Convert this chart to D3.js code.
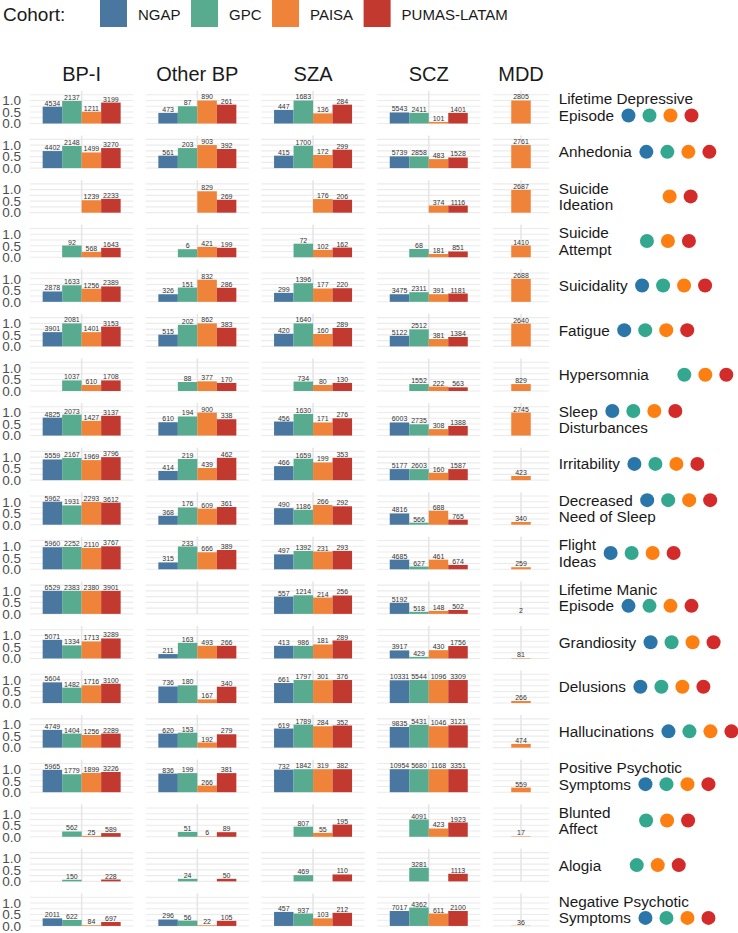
<!DOCTYPE html>
<html>
<head>
<meta charset="utf-8">
<script src="https://cdn.jsdelivr.net/npm/d3@7"></script>
<style>
  body { margin: 0; background: #fff; }
  svg { display: block; font-family: "Liberation Sans", Arial, sans-serif; }
</style>
</head>
<body>
<svg id="chart" width="738" height="933"></svg>
<script>
const cohorts = ["NGAP", "GPC", "PAISA", "PUMAS-LATAM"];
const barColours = ["#4a77a0", "#59ab90", "#ef8339", "#c1392f"];
const dotColours = ["#2b76a8", "#34a88e", "#fd7f11", "#d32a2a"];
const disorders = ["BP-I", "Other BP", "SZA", "SCZ", "MDD"];

// label lines per symptom
const symptoms = [
  ["Lifetime Depressive", "Episode"], ["Anhedonia"], ["Suicide", "Ideation"], ["Suicide", "Attempt"],
  ["Suicidality"], ["Fatigue"], ["Hypersomnia"], ["Sleep", "Disturbances"], ["Irritability"],
  ["Decreased", "Need of Sleep"], ["Flight", "Ideas"], ["Lifetime Manic", "Episode"], ["Grandiosity"],
  ["Delusions"], ["Hallucinations"], ["Positive Psychotic", "Symptoms"], ["Blunted", "Affect"],
  ["Alogia"], ["Negative Psychotic", "Symptoms"]
];
// which cohorts have a dot next to each symptom
const symptomCohorts = [
  [0,1,2,3], [0,1,2,3], [2,3], [1,2,3], [0,1,2,3], [0,1,2,3], [1,2,3], [0,1,2,3], [0,1,2,3],
  [0,1,2,3], [0,1,2,3], [0,1,2,3], [0,1,2,3], [0,1,2,3], [0,1,2,3], [0,1,2,3], [1,2,3], [1,2,3], [0,1,2,3]
];
// line the dots sit on ("mid" = beside the whole block)
const dotsOn = [1, 0, "mid", "mid", 0, 0, 0, 0, 0, 0, "mid", 1, 0, 0, 0, 1, "mid", 0, 1];

const bp1Prop = [
  [.73,.98,.51,.91], [.74,.96,.68,.87], [null,null,.54,.60], [null,.51,.23,.41],
  [.45,.72,.57,.67], [.62,1.0,.62,.86], [null,.46,.26,.46], [.78,.91,.64,.86],
  [.90,.96,.87,1.0], [1.0,.84,.99,.96], [.96,.97,.93,1.0], [1,1,1,1],
  [.81,.57,.74,.87], [.90,.67,.77,.84], [.77,.61,.55,.61], [.97,.78,.84,.88],
  [null,.23,.04,.16], [null,.07,null,.08], [.33,.26,.03,.17]
];
const bp1N = [
  [4534,2137,1211,3199], [4402,2148,1499,3270], [null,null,1239,2233], [null,92,568,1643],
  [2878,1633,1256,2389], [3901,2081,1401,3153], [null,1037,610,1708], [4825,2073,1427,3137],
  [5559,2167,1969,3796], [5962,1931,2293,3612], [5960,2252,2110,3767], [6529,2383,2380,3901],
  [5071,1334,1713,3289], [5604,1482,1716,3100], [4749,1404,1256,2289], [5965,1779,1899,3226],
  [null,562,25,589], [null,150,null,228], [2011,622,84,697]
];

const otherBpProp = [
  [.46,.75,1.0,.82], [.54,.87,1.0,.83], [null,null,.93,.56], [null,.35,.45,.41],
  [.33,.62,.96,.61], [.51,.94,1.0,.81], [null,.39,.42,.35], [.58,.83,1.0,.71],
  [.40,.92,.53,.97], [.39,.75,.70,.77], [.30,.99,.74,.84], [null,null,null,null],
  [.19,.68,.55,.55], [.72,.77,.16,.71], [.61,.65,.22,.58], [.81,.83,.29,.83],
  [null,.21,.02,.20], [null,.11,null,.11], [.28,.23,.03,.22]
];
const otherBpN = [
  [473,87,890,261], [561,203,903,392], [null,null,829,269], [null,6,421,199],
  [326,151,832,286], [515,202,862,383], [null,88,377,170], [610,194,900,338],
  [414,219,439,462], [368,176,609,361], [315,233,666,389], [null,null,null,null],
  [211,163,493,266], [736,180,167,340], [620,153,192,279], [836,199,266,381],
  [null,51,6,89], [null,24,null,50], [296,56,22,105]
];

const szaProp = [
  [.59,1.0,.44,.82], [.54,.97,.57,.80], [null,null,.59,.56], [null,.59,.32,.42],
  [.39,.81,.58,.59], [.55,1.0,.54,.80], [null,.41,.26,.35], [.61,.94,.57,.75],
  [.61,.93,.77,.97], [.72,.65,.86,.80], [.65,.80,.77,.80], [.75,.81,.71,.80],
  [.55,.55,.61,.78], [.87,1.0,.99,1.0], [.83,1.0,.93,.96], [.98,1.0,1.0,1.0],
  [null,.44,.17,.53], [null,.27,null,.30], [.61,.54,.33,.57]
];
const szaN = [
  [447,1683,136,284], [415,1700,172,299], [null,null,176,206], [null,72,102,162],
  [299,1396,177,220], [420,1640,160,289], [null,734,80,130], [456,1630,171,276],
  [466,1659,199,353], [490,1186,266,292], [497,1392,231,293], [557,1214,214,256],
  [413,986,181,289], [661,1797,301,376], [619,1789,284,352], [732,1842,319,382],
  [null,807,55,195], [null,469,null,110], [457,937,103,212]
];

const sczProp = [
  [.48,.46,.07,.46], [.51,.51,.39,.46], [null,null,.31,.31], [null,.36,.14,.25],
  [.33,.42,.33,.36], [.46,.74,.32,.41], [null,.30,.19,.16], [.57,.49,.28,.42],
  [.48,.48,.32,.48], [.49,.09,.61,.22], [.42,.12,.42,.19], [.48,.09,.13,.17],
  [.35,.07,.36,.54], [.99,1.0,1.0,1.0], [.90,.99,.93,.97], [1,1,1,1],
  [null,.75,.36,.62], [null,.59,null,.33], [.65,.80,.54,.65]
];
const sczN = [
  [5543,2411,101,1401], [5739,2858,483,1528], [null,null,374,1116], [null,68,181,851],
  [3475,2311,391,1181], [5122,2512,381,1384], [null,1552,222,563], [6003,2735,308,1388],
  [5177,2603,160,1587], [4816,566,688,765], [4685,627,461,674], [5192,518,148,502],
  [3917,429,430,1756], [10331,5544,1096,3309], [9835,5431,1046,3121], [10954,5680,1168,3351],
  [null,4091,423,1923], [null,3281,null,1113], [7017,4362,611,2100]
];

// MDD only has PAISA
const mddProp = [1.0,1.0,.99,.51,1.0,.99,.30,1.0,.18,.12,.09,0,.02,.09,.16,.20,.02,null,.01];
const mddN = [2805,2761,2687,1410,2688,2640,829,2745,423,340,259,2,81,266,474,559,17,null,36];

const panels = {
  "BP-I": { prop: bp1Prop, n: bp1N, cohorts: cohorts },
  "Other BP": { prop: otherBpProp, n: otherBpN, cohorts: cohorts },
  "SZA": { prop: szaProp, n: szaN, cohorts: cohorts },
  "SCZ": { prop: sczProp, n: sczN, cohorts: cohorts },
  "MDD": { prop: mddProp.map(v => [v]), n: mddN.map(v => [v]), cohorts: ["PAISA"] }
};

const svg = d3.select("#chart");
const colour = d3.scaleOrdinal(cohorts, barColours);

// layout
const panelH = 32.5, barW = 19.5;
const firstTop = 91, rowStep = 44.58, gap = 12.4;
const rowTop = d3.scalePoint()
    .domain(d3.range(symptoms.length))
    .range([firstTop, firstTop + rowStep * (symptoms.length - 1)]);
const y = d3.scaleLinear().domain([0, 1.413]).range([panelH, 0]);

let x0 = 30;
const panelPos = disorders.map(d => {
  const w = d === "MDD" ? 56.4 : 103.3;
  const p = { d, x: x0, w, cx: x0 + w / 2 };
  x0 += w + gap;
  return p;
});

// legend
const legend = svg.append("g");
legend.append("text")
    .attr("x", 3).attr("y", 21)
    .style("font-size", "19px").attr("fill", "#1a1a1a")
    .text("Cohort:");
let lx = 100;
cohorts.forEach((c, i) => {
  legend.append("rect")
      .attr("x", lx).attr("y", 0).attr("width", 27).attr("height", 27)
      .attr("fill", colour(c));
  const t = legend.append("text")
      .attr("x", lx + 38).attr("y", 19.5)
      .style("font-size", "15px").attr("fill", "#1a1a1a")
      .text(c);
  lx += 38 + t.node().getComputedTextLength() + 10.5;
});

// strip titles
svg.append("g").selectAll("text")
  .data(panelPos)
  .join("text")
    .attr("x", d => d.cx).attr("y", 81)
    .attr("text-anchor", "middle")
    .style("font-size", "20px").attr("fill", "#1a1a1a")
    .text(d => d.d);

const gridVals = [0, 0.25, 0.5, 0.75, 1, 1.25];

symptoms.forEach((lines, i) => {
  const row = svg.append("g").attr("transform", `translate(0,${rowTop(i)})`);

  // y axis
  const ax = row.append("g")
      .attr("transform", "translate(30,0)")
      .call(d3.axisLeft(y).tickValues([0, 0.5, 1]).tickFormat(d3.format(".1f")).tickSize(0).tickPadding(9));
  ax.select(".domain").remove();
  ax.selectAll("text")
      .style("font-size", "13.5px")
      .style("font-family", "'Liberation Sans', Arial, sans-serif")
      .attr("fill", "#4d4d4d");

  panelPos.forEach(p => {
    const info = panels[p.d];
    const g = row.append("g");
    g.selectAll("line.h")
      .data(gridVals)
      .join("line")
        .attr("x1", p.x).attr("x2", p.x + p.w)
        .attr("y1", d => y(d)).attr("y2", d => y(d))
        .attr("stroke", "#ebebeb").attr("stroke-width", 1.1);
    g.append("line")
        .attr("x1", p.cx).attr("x2", p.cx)
        .attr("y1", 0).attr("y2", panelH)
        .attr("stroke", "#e6e6e6").attr("stroke-width", 1.6);

    const band = d3.scaleBand()
        .domain(info.cohorts)
        .range([p.cx - barW * info.cohorts.length / 2, p.cx + barW * info.cohorts.length / 2]);

    const bars = info.cohorts
      .map((c, k) => ({ c, v: info.prop[i][k], n: info.n[i][k] }))
      .filter(d => d.v !== null && d.v !== undefined);

    g.selectAll("rect")
      .data(bars)
      .join("rect")
        .attr("x", d => band(d.c))
        .attr("width", band.bandwidth())
        .attr("y", d => y(d.v))
        .attr("height", d => y(0) - y(d.v))
        .attr("fill", d => colour(d.c));

    g.selectAll("text")
      .data(bars)
      .join("text")
        .attr("x", d => band(d.c) + band.bandwidth() / 2)
        .attr("y", d => y(d.v) - 1)
        .attr("text-anchor", "middle")
        .style("font-size", "7px")
        .attr("fill", "#333")
        .text(d => d.n);
  });

  // right-hand label with cohort dots
  const c = panelH / 2;
  const lab = row.append("g").attr("transform", "translate(558.7,0)");
  const baselines = lines.length === 1 ? [c + 5.5] : [c - 2.8, c + 13.7];
  const widths = lines.map((l, k) => {
    const t = lab.append("text")
        .attr("x", 0).attr("y", baselines[k])
        .style("font-size", "15.3px").attr("fill", "#1a1a1a")
        .text(l);
    return t.node().getComputedTextLength();
  });
  const where = dotsOn[i];
  let dotY, dotX;
  if (where === "mid") {
    dotY = c;
    dotX = d3.max(widths);
  } else {
    dotY = baselines[where] - 5.5;
    dotX = widths[where];
  }
  lab.selectAll("circle")
    .data(symptomCohorts[i])
    .join("circle")
      .attr("cx", k => dotX + 14.5 + k * 21)
      .attr("cy", dotY)
      .attr("r", 7)
      .attr("fill", k => dotColours[k]);
});
</script>
</body>
</html>
